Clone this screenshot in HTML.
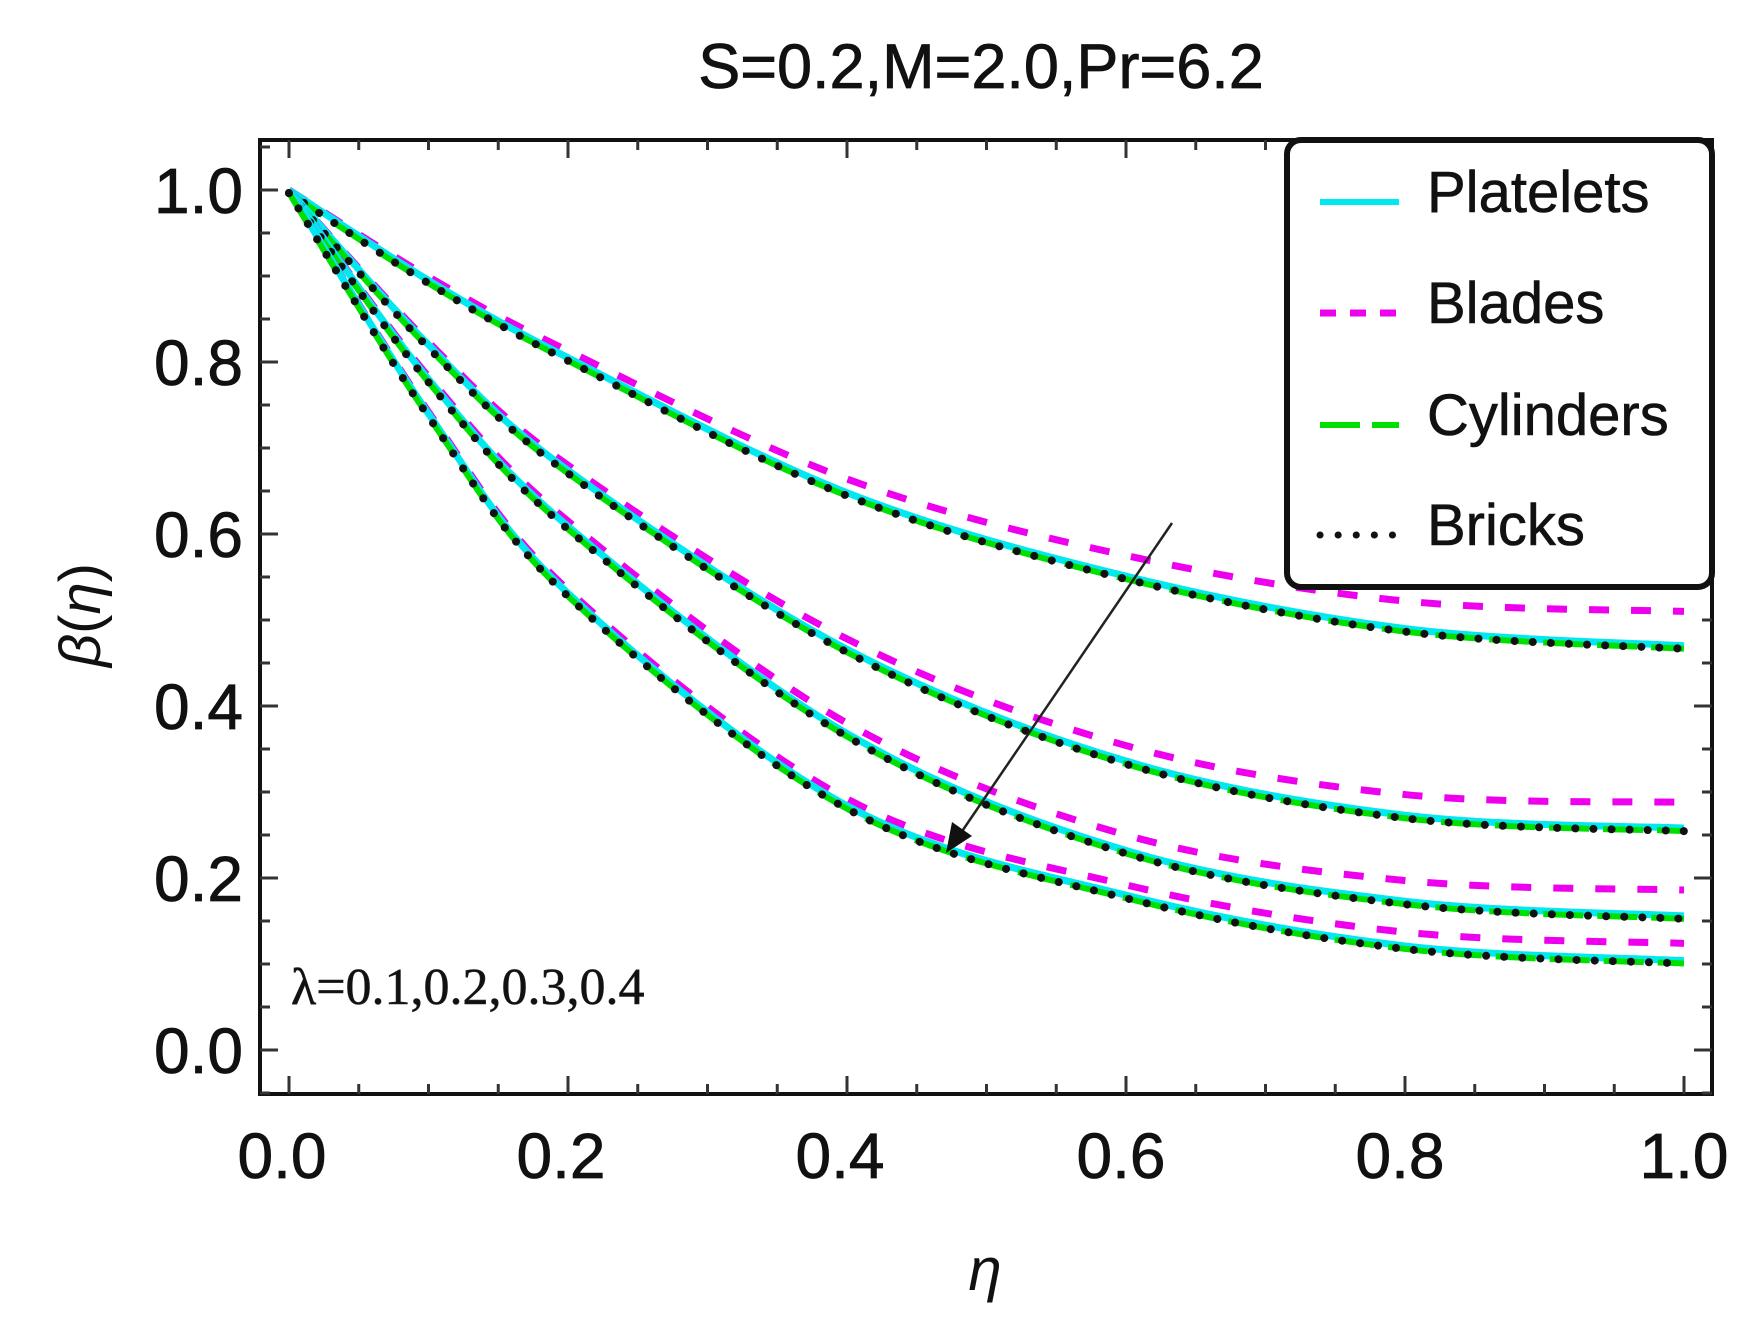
<!DOCTYPE html>
<html><head><meta charset="utf-8"><style>
html,body{margin:0;padding:0;background:#fff}
svg{display:block}
text{font-family:"Liberation Sans",sans-serif;fill:#111}
</style></head><body>
<svg id="s" width="1746" height="1339" viewBox="0 0 1746 1339" xmlns="http://www.w3.org/2000/svg">
<text x="981" y="88" font-size="63" text-anchor="middle" stroke="#111" stroke-width="0.8">S=0.2,M=2.0,Pr=6.2</text>
<g id="curves"></g>
<rect x="260" y="140" width="1452" height="954" fill="none" stroke="#111" stroke-width="4"/>
<g id="ticks" stroke="#333" stroke-width="3"></g>
<g font-size="64" text-anchor="end" stroke="#111" stroke-width="0.8">
<text x="243" y="213">1.0</text><text x="243" y="385">0.8</text><text x="243" y="557">0.6</text>
<text x="243" y="729">0.4</text><text x="243" y="901">0.2</text><text x="243" y="1073">0.0</text>
</g>
<g font-size="64" text-anchor="middle" stroke="#111" stroke-width="0.8">
<text x="282" y="1178">0.0</text><text x="561" y="1178">0.2</text><text x="840" y="1178">0.4</text>
<text x="1121" y="1178">0.6</text><text x="1400" y="1178">0.8</text><text x="1684" y="1178">1.0</text>
</g>
<text x="985" y="1290" font-size="60" font-style="italic" text-anchor="middle">η</text>
<text transform="translate(100,615) rotate(-90)" font-size="58" text-anchor="middle"><tspan font-style="italic">β</tspan>(<tspan font-style="italic">η</tspan>)</text>
<text x="291" y="1004" font-size="52" stroke="#222" stroke-width="0.6" style="font-family:'Liberation Serif',serif">λ=0.1,0.2,0.3,0.4</text>
<line x1="1172" y1="523" x2="952" y2="846" stroke="#222" stroke-width="2.5"/>
<polygon points="946,853 952,822 972,836" fill="#111"/>
<rect x="1287" y="140" width="425" height="447" rx="14" fill="#fff" stroke="#111" stroke-width="6"/>
<line x1="1320" y1="202" x2="1399" y2="202" stroke="#00e8f0" stroke-width="6"/>
<line x1="1320" y1="313" x2="1399" y2="313" stroke="#ee00ee" stroke-width="7" stroke-dasharray="16,14"/>
<line x1="1320" y1="425" x2="1399" y2="425" stroke="#00e000" stroke-width="6" stroke-dasharray="40,12"/>
<line x1="1320" y1="535" x2="1399" y2="535" stroke="#111" stroke-width="7" stroke-linecap="round" stroke-dasharray="0.1,18"/>
<g font-size="58" stroke="#111" stroke-width="0.6"><text x="1427" y="212">Platelets</text><text x="1427" y="323">Blades</text><text x="1427" y="435">Cylinders</text><text x="1427" y="545">Bricks</text></g>
</svg>
<script>
var X=function(e){return 289+e*1395},Y=function(v){return 1050-v*860};
var et=[0,0.1,0.2,0.4,0.6,0.8,1.0];
var C=[[1,0.895,0.805,0.648,0.551,0.49,0.47],[1,0.82,0.674,0.466,0.336,0.273,0.258],[1,0.78,0.609,0.368,0.232,0.173,0.156],[1,0.74,0.531,0.284,0.18,0.121,0.104]];
var off=[0.04,0.03,0.03,0.02];
function path(v){var p=et.map(function(e,i){return [X(e),Y(v[i])]});var d="M"+p[0][0]+","+p[0][1];
for(var i=0;i<p.length-1;i++){var p0=p[Math.max(i-1,0)],p1=p[i],p2=p[i+1],p3=p[Math.min(i+2,p.length-1)];
d+=" C"+(p1[0]+(p2[0]-p0[0])/6)+","+(p1[1]+(p2[1]-p0[1])/6)+" "+(p2[0]-(p3[0]-p1[0])/6)+","+(p2[1]-(p3[1]-p1[1])/6)+" "+p2[0]+","+p2[1];}return d;}
var g=document.getElementById("curves"),h="";
C.forEach(function(v,k){var b=v.map(function(y,i){return y+off[k]*et[i]});
h+='<path d="'+path(b)+'" fill="none" stroke="#ee00ee" stroke-width="7" stroke-dasharray="20,22"/>';
var d=path(v);
h+='<path d="'+d+'" fill="none" stroke="#00e8f0" stroke-width="7"/>';
h+='<path d="'+d+'" fill="none" stroke="#00e000" stroke-width="6" stroke-dasharray="40,14" transform="translate(0,3)"/>';
h+='<path d="'+d+'" fill="none" stroke="#111" stroke-width="8" stroke-linecap="round" stroke-dasharray="0.1,18" transform="translate(0,3)"/>';});
g.innerHTML=h;
var t="";
for(var i=0;i<=20;i++){var x=X(i*0.05),L=(i%4==0)?18:10;t+='<line x1="'+x+'" y1="1094" x2="'+x+'" y2="'+(1094-L)+'"/><line x1="'+x+'" y1="140" x2="'+x+'" y2="'+(140+L)+'"/>';}
for(var i=-1;i<=21;i++){var y=Y(i*0.05);if(y<140||y>1094)continue;var L=(i%4==0)?18:10;t+='<line x1="260" y1="'+y+'" x2="'+(260+L)+'" y2="'+y+'"/><line x1="1712" y1="'+y+'" x2="'+(1712-L)+'" y2="'+y+'"/>';}
document.getElementById("ticks").innerHTML=t;
</script>
</body></html>
